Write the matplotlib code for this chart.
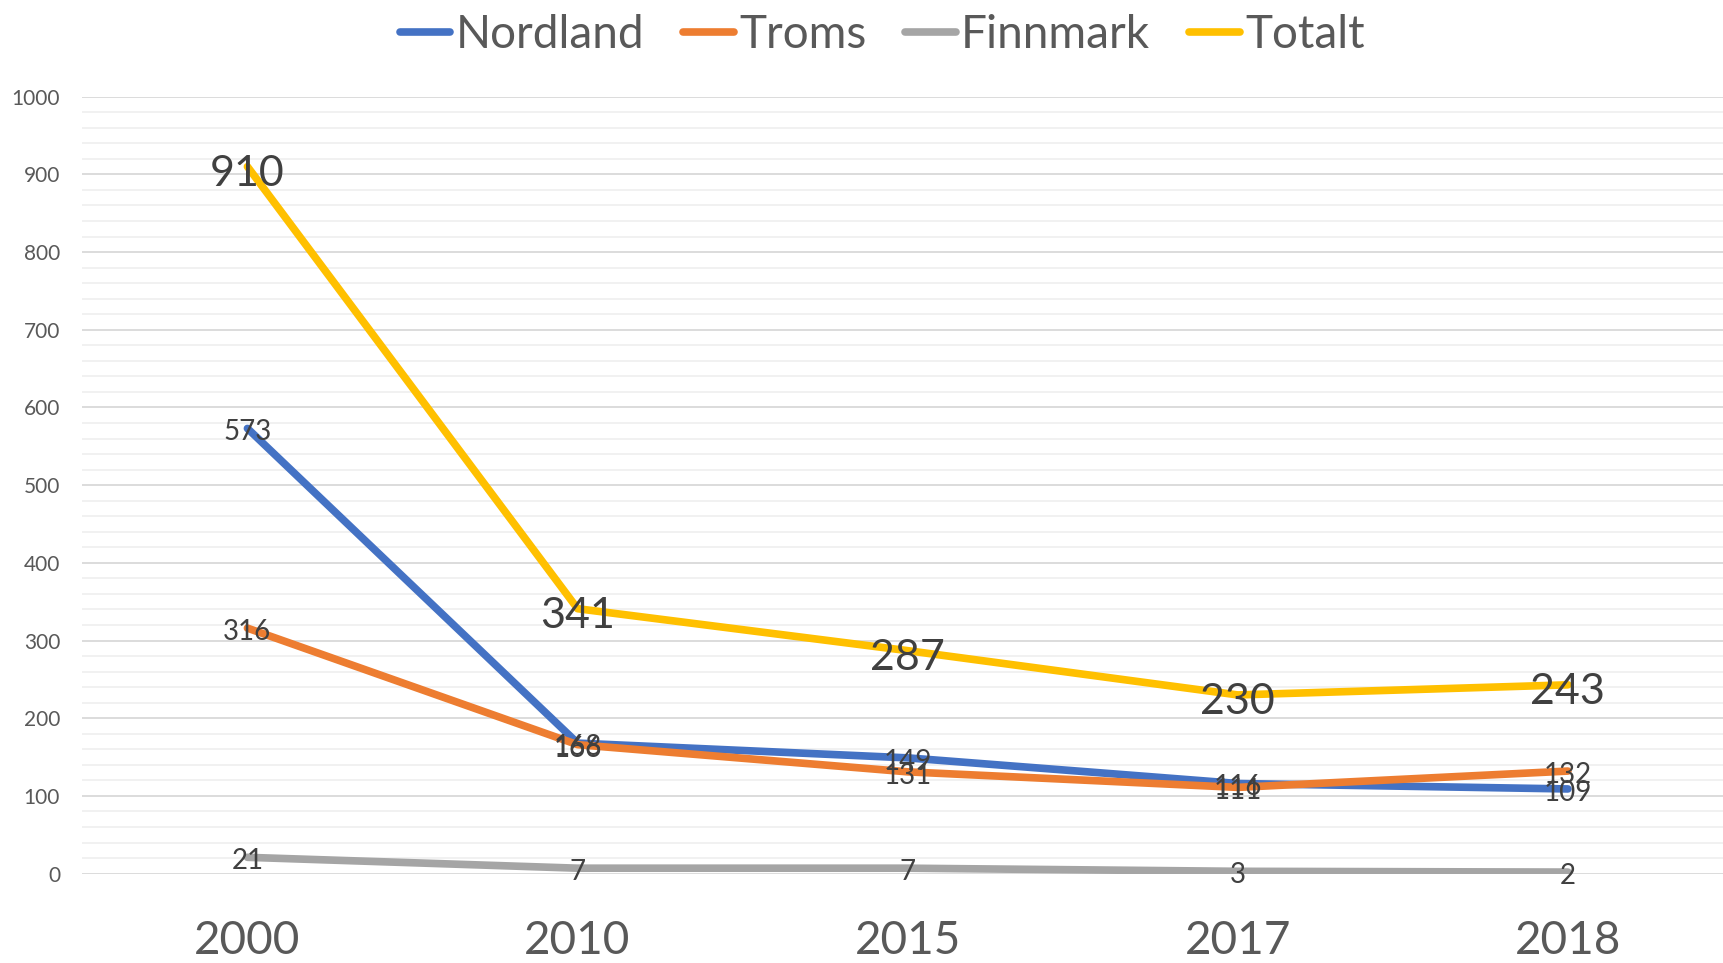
import matplotlib
matplotlib.use("Agg")
import matplotlib.pyplot as plt
from matplotlib.ticker import MultipleLocator

years = ["2000", "2010", "2015", "2017", "2018"]
nordland = [573, 168, 149, 116, 109]
troms = [316, 166, 131, 111, 132]
finnmark = [21, 7, 7, 3, 2]
totalt = [910, 341, 287, 230, 243]

series = [
    ("Nordland", nordland, "#4472C4"),
    ("Troms", troms, "#ED7D31"),
    ("Finnmark", finnmark, "#A5A5A5"),
    ("Totalt", totalt, "#FFC000"),
]

plt.rcParams['font.family'] = ['Lato', 'DejaVu Sans']

fig = plt.figure(figsize=(17.23, 9.63), dpi=100)
ax = fig.add_axes([0.0478, 0.0928, 0.9580, 0.8068])

x = list(range(len(years)))
handles = []
for name, vals, col in series:
    h, = ax.plot(x, vals, color=col, lw=5.5, solid_capstyle='round',
                 solid_joinstyle='round', label=name, zorder=3)
    handles.append(h)

for name, vals, col in series:
    big = name == "Totalt"
    fs = 31 if big else 20
    dy = -2.5 if big else -1
    for xi, v in zip(x, vals):
        ax.annotate(str(v), (xi, v), xytext=(0, dy), textcoords='offset points',
                    ha='center', va='center_baseline',
                    fontsize=fs, color='#404040', zorder=5)

ax.set_xlim(-0.5, 4.5)
ax.set_ylim(0, 1000)
ax.set_xticks(x)
ax.set_xticklabels(years)
ax.yaxis.set_major_locator(MultipleLocator(100))
ax.yaxis.set_minor_locator(MultipleLocator(20))
ax.tick_params(axis='x', length=0, labelsize=33, labelcolor='#595959', pad=33.5)
ax.tick_params(axis='y', which='both', length=0, labelsize=15,
               labelcolor='#595959', pad=16)
ax.grid(axis='y', which='major', color='#D9D9D9', lw=1.3, zorder=0)
ax.grid(axis='y', which='minor', color='#F0F0F0', lw=1.3, zorder=0)
ax.grid(axis='x', visible=False)
for s in ax.spines.values():
    s.set_visible(False)
ax.set_axisbelow(True)

leg = fig.legend(handles=handles, loc='center', bbox_to_anchor=(0.512, 0.964),
                 ncol=4, frameon=False, fontsize=33, handlelength=1.1,
                 handletextpad=0.12, columnspacing=0.85, borderaxespad=0)
for t in leg.get_texts():
    t.set_color('#595959')

fig.savefig("out.png", dpi=100)
